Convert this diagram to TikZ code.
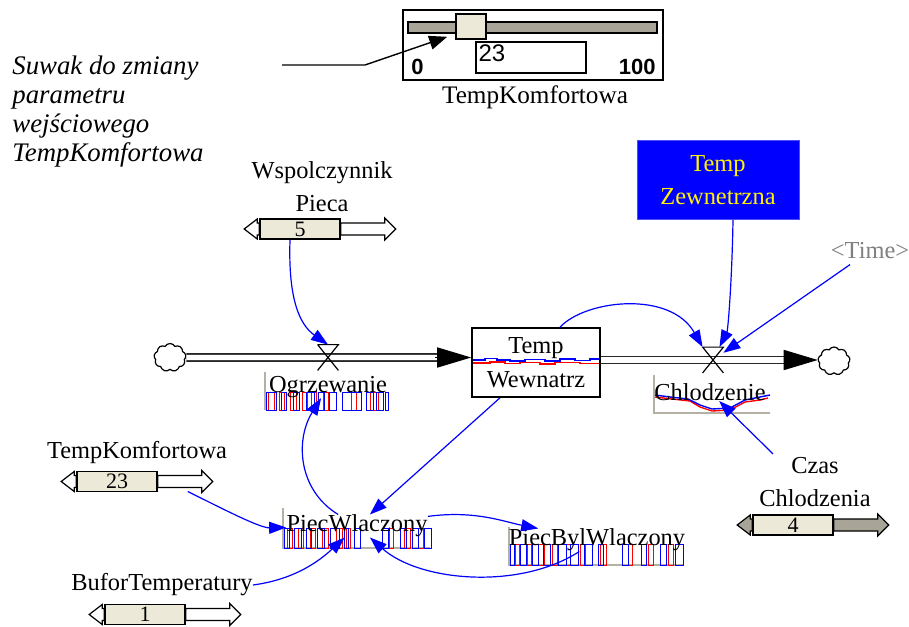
\documentclass[tikz,border=0pt]{standalone}
\usepackage{fontspec}
\setmainfont{Liberation Serif}
\setsansfont{Liberation Sans}
\usetikzlibrary{arrows.meta,shapes.symbols}

\definecolor{bez}{HTML}{ECE9D8}
\definecolor{szary}{HTML}{A8A497}
\definecolor{os}{HTML}{B4B0A4}

\tikzset{
  etykieta/.style={align=center,inner sep=0pt,font=\fontsize{12.2}{16.5}\selectfont},
  wartosc/.style={draw,fill=bez,line width=0.8pt,minimum width=40pt,minimum height=10pt,inner sep=0pt,font=\fontsize{11}{11}\selectfont},
  zawor/.style={minimum width=10pt,minimum height=12.5pt,inner sep=0pt},
  chmura/.style={cloud,draw,cloud puffs=9,cloud puff arc=120,aspect=1.15,minimum width=16pt,minimum height=14pt,inner sep=0pt,line width=0.6pt},
  rura/.style={draw=black!85,line width=0.9pt,double=white,double distance=2.6pt},
  grot/.style={-{Triangle[length=17pt,width=10pt]},line width=0.8pt},
  link/.style={blue,line width=0.6pt,-{Triangle[length=8.5pt,width=6pt]}},
  strzalka/.style={line width=0.7pt,-{Triangle[length=9pt,width=7pt]}},
  wykres/.style={line width=0.5pt}
}

\newcommand{\Suwak}[4]{%
  \node[wartosc] (#1) at (#2) {#3};
  \draw[fill=#4,line width=0.6pt] ([shift={(0,-6)}]#1.west) -- ++(-2,0) -- ++(0,-4) -- ++(-13,10) -- ++(13,10) -- ++(0,-4) -- ++(2,0) -- cycle;
  \draw[fill=#4,line width=0.6pt] ([shift={(0,-6)}]#1.east) -- ++(44,0) -- ++(0,-5) -- ++(11,11) -- ++(-11,11) -- ++(0,-5) -- ++(-44,0) -- cycle;
}
\newcommand{\Wykres}[5]{%
  \foreach \a/\b in {#5} \draw[red,wykres] (#1+\a,#3) rectangle (#1+\b,#2);
  \foreach \a/\b in {#4} \draw[blue,wykres] (#1+\a,#3) rectangle (#1+\b,#2);
}

\begin{document}
\begin{tikzpicture}[x=0.5pt,y=-0.5pt]
  \useasboundingbox (0,0) rectangle (909,626);

  \node[draw,line width=0.8pt,minimum width=130pt,minimum height=35pt,inner sep=0pt] (panel) at (533,45) {};
  \node[draw,fill=szary,line width=0.7pt,minimum width=124.5pt,minimum height=5.5pt,inner sep=0pt] (tor) at (532.5,27.5) {};
  \node[draw,fill=bez,line width=0.8pt,minimum width=15pt,minimum height=12.5pt,inner sep=0pt] (knob) at (471,26.5) {};
  \node[draw,fill=white,line width=0.8pt,minimum width=55pt,minimum height=15.5pt,inner sep=0pt] (pole) at (531,57.5) {};
  \node[anchor=north west,inner sep=1.5pt,font=\sffamily\fontsize{12}{12}\selectfont] (polewart) at (pole.north west) {23};
  \node[anchor=base west,inner sep=0pt,font=\sffamily\bfseries\fontsize{11}{11}\selectfont] (min) at (411,75) {0};
  \node[anchor=base east,inner sep=0pt,font=\sffamily\bfseries\fontsize{11}{11}\selectfont] (max) at (656,75) {100};
  \node[etykieta,font=\fontsize{12.6}{16.5}\selectfont] (suwakEt) at (535,97) {TempKomfortowa};

  \node[anchor=north west,inner sep=0pt,align=left,font=\itshape\fontsize{13.4}{14.4}\selectfont] (opis) at (12,56)
    {Suwak do zmiany\\parametru\\wejściowego\\TempKomfortowa};
  \coordinate (opisKon) at (282,65);
  \draw[strzalka] (opisKon) -- ++(83,0) -- ([shift={(-8,-3)}]knob.south west);

  \draw[os,line width=0.6pt] (265,372) -- (265,410);
  \Wykres{266}{392}{410}{0/10,15/20,27/33,40/48,52/58,63/70,76/95,100/107,110/117,119/122}{2/8,13/18,24/30,36/41,45/50,57/62,85/90,104/112}
  \draw[os,line width=0.6pt] (283,508) -- (283,548) -- (430,548);
  \Wykres{284}{528}{548}{0/5,10/17,22/27,33/40,46/55,60/64,70/76,98/104,116/122,128/134,140/147}{3/8,14/19,26/31,38/44,52/58,62/66,105/109,120/126,134/139}
  \draw[os,line width=0.6pt] (509,527) -- (509,565) -- (683,565);
  \Wykres{510}{544}{565}{0/4,10/16,22/28,33/40,48/56,60/68,74/82,88/93,112/118,131/136,150/156,165/173}{5/9,17/21,28/34,42/47,56/60,70/75,90/96,118/122,138/143,158/163}
  \draw[os,line width=0.6pt] (654,375) -- (654,413) -- (770,413);
  \draw[red,line width=0.7pt] (655,397) -- (672,399) -- (690,401) -- (700,407) -- (712,411) -- (730,410) -- (745,402) -- (760,400) -- (768,398);
  \draw[blue,line width=0.7pt] (655,395) -- (670,397) -- (688,399) -- (700,405) -- (712,409) -- (730,408) -- (745,400) -- (760,397) -- (770,395);

  \node[etykieta] (wspP) at (322,187) {Wspolczynnik\\Pieca};
  \Suwak{wspPw}{300,229}{5}{white}
  \node[etykieta] (tempK) at (137,453) {TempKomfortowa};
  \Suwak{tempKw}{117,481.5}{23}{white}
  \node[etykieta] (bufor) at (162,585) {BuforTemperatury};
  \Suwak{buforw}{145,614.5}{1}{white}
  \node[etykieta] (czasCh) at (815,482) {Czas\\Chlodzenia};
  \Suwak{czasChw}{793,525}{4}{szary}

  \node[etykieta,draw,line width=0.8pt,minimum width=64pt,minimum height=34.5pt,font=\fontsize{12.2}{17}\selectfont] (tempW) at (536,362.5) {Temp\\Wewnatrz};
  \draw[blue,line width=0.7pt] (473,360) -- (485,360) -- (485,358.5) -- (497,358.5) -- (497,360) -- (510,360) -- (510,361) -- (525,361) -- (525,359.5) -- (545,359.5) -- (545,361) -- (560,361) -- (560,359) -- (575,359) -- (575,360.5) -- (590,360.5) -- (590,359) -- (599,359);
  \draw[red,line width=0.7pt] (473,363) -- (490,363) -- (490,362) -- (505,362) -- (505,363.5) -- (520,363.5) -- (520,362.5) -- (540,362.5) -- (540,364) -- (555,364) -- (555,362.5) -- (580,362.5) -- (580,363.5) -- (599,363.5);

  \node[etykieta,fill=blue,draw=blue!70!white,minimum width=81pt,minimum height=39.5pt,text=yellow] (tempZ) at (718,180) {Temp\\Zewnetrzna};
  \node[etykieta,text=gray] (timeEt) at (870,251) {<Time>};

  \node[chmura] (cloudL) at (170,357.5) {};
  \node[zawor] (vOgrz) at (328,357.5) {};
  \coordinate (wlot) at (tempW.west |- vOgrz);
  \draw[rura] (cloudL.east) -- ([shift={(-34,0)}]wlot);
  \draw[grot] ([shift={(-36,0)}]wlot) -- (wlot);

  \node[zawor] (vChl) at (713,360) {};
  \node[chmura] (cloudR) at (834,361) {};
  \coordinate (wylot) at (cloudR.west |- vChl);
  \draw[rura] (tempW.east |- vChl) -- ([shift={(-32,0)}]wylot);
  \draw[grot] ([shift={(-34,0)}]wylot) -- (wylot);

  \foreach \v in {vOgrz,vChl}
    \draw[line width=0.6pt] (\v.north west) -- (\v.north east) -- (\v.south west) (\v.north west) -- (\v.south east);

  \node[etykieta] (ogrz) at (328,387) {Ogrzewanie};
  \node[etykieta] (chlodz) at (710,392) {Chlodzenie};
  \node[etykieta] (piecW) at (357,526) {PiecWlaczony};
  \node[etykieta] (piecBW) at (597,540) {PiecBylWlaczony};

  \draw[link] ([shift={(-10,0)}]wspPw.south) .. controls (288,300) and (300,325) .. (vOgrz.north);
  \draw[link] ([shift={(24,0)}]tempW.north) .. controls (585,300) and (670,290) .. (vChl.north west);
  \draw[link] ([shift={(15,0)}]tempZ.south) .. controls (732,280) and (728,330) .. ([shift={(9,8)}]vChl);
  \draw[link] ([shift={(-20,5)}]timeEt.south) -- ([shift={(27,8)}]vChl);
  \draw[link] ([shift={(-42,-3)}]czasCh.north) -- ([shift={(28,22)}]chlodz);
  \draw[link] ([shift={(-36,0)}]tempW.south) -- ([shift={(23,-16)}]piecW);
  \draw[link] ([shift={(-37,-18)}]piecW) .. controls (298,490) and (295,440) .. ([shift={(-25,26)}]ogrz);
  \draw[link] ([shift={(30,10)}]tempKw.east) .. controls (225,510) and (260,528) .. ([shift={(-72,4)}]piecW);
  \draw[link] (bufor.east) .. controls (290,580) and (315,565) .. ([shift={(-19,22)}]piecW);
  \draw[link] ([shift={(75,-10)}]piecW) .. controls (475,510) and (505,522) .. ([shift={(-55,-15)}]piecBW);
  \draw[link] ([shift={(-42,20)}]piecBW) .. controls (520,590) and (420,582) .. ([shift={(27,26)}]piecW);
\end{tikzpicture}
\end{document}
